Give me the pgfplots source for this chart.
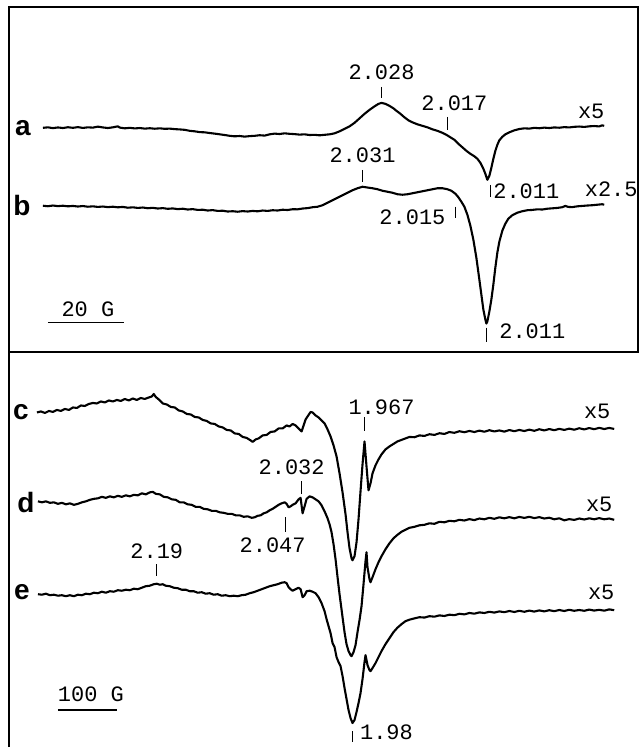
\documentclass[border=0pt]{standalone}
\usepackage{fontspec}
\usepackage{pgfplots}
\pgfplotsset{compat=1.18}
\newfontfamily\cour{Liberation Mono}
\newfontfamily\hel{Liberation Sans}
\tikzset{lbl/.style={font=\cour\fontsize{11}{11}\selectfont,inner sep=0pt},
  lettr/.style={font=\hel\bfseries\fontsize{14}{14}\selectfont,inner sep=0pt}}
\pgfplotsset{trace/.style={black,solid,mark=none,line width=1.05pt,line join=round},
  tk/.style={black,solid,mark=none,line width=0.4pt}}
\begin{document}
\begin{tikzpicture}
\begin{axis}[width=320pt,height=374pt,scale only axis,
  xmin=0,xmax=640,ymin=0,ymax=748,y dir=reverse,hide axis,clip=false]
\path (axis cs:0,0) rectangle (axis cs:640,748);
% frame
\addplot[black,mark=none,line width=1pt] coordinates {(9,748)(9,7.5)(639,7.5)(639,352)};
\addplot[black,mark=none,line width=1pt] coordinates {(9,352)(640,352)};
% trace a
\addplot[trace] coordinates {(43,128)(48,127.5)(53,128.3)(58,127.6)(63,128.2)(68,127.4)(73,128)(78,127.3)(83,128.1)(88,127.5)(93,127.8)(98,126.8)(103,127.6)(108,128.2)(113,127.5)(118,126.5)(120,127.8)(125,128.5)(130,128)(135,128.6)(140,128.2)(145,128.8)(150,128.4)(155,128.9)(160,128.5)(165,129)(170,128.8)(175,129.3)(180,129.6)(185,130)(190,131)(195,131.5)(200,132.3)(205,132.5)(210,133.2)(215,133.8)(220,134.5)(225,135.2)(230,136)(235,136.5)(240,136.2)(245,136.8)(250,136.3)(255,136)(260,135.4)(265,135.8)(270,134.5)(275,133.8)(280,134.2)(285,133.5)(290,134)(295,134.3)(300,134.8)(305,134.5)(310,135.2)(315,135)(320,135.5)(325,135)(330,134.5)(335,133.5)(340,131.5)(345,129)(350,126.5)(355,123)(360,118.5)(365,114)(370,110)(375,106.5)(379,104)(382,103)(386,104)(390,106)(394,108.5)(397,111)(401,114)(405,117.5)(409,120.5)(413,122.5)(418,124.5)(423,126)(428,127.5)(433,129.5)(438,131)(443,133)(447,135)(451,137.5)(455,140)(459,144)(463,147.5)(467,151)(471,154)(475,156.5)(478,159)(481,163)(484,169)(486,174)(488,180)(490,176)(492,168)(494,159)(496,151)(498,145)(500,140.5)(503,137)(506,134.5)(510,132.5)(515,130.5)(520,129.2)(525,128.5)(530,128.8)(535,128)(540,128.4)(545,127.8)(550,128.2)(555,127.6)(560,127.9)(565,127.3)(570,127.6)(575,127)(580,126.7)(585,127.1)(590,126.5)(595,126.2)(600,126.6)(603,125.5)(605,126)};
% trace b
\addplot[trace] coordinates {(43,206)(48,206.5)(53,205.8)(58,206.4)(63,206)(68,206.6)(73,206.2)(78,206.8)(83,206.3)(88,207)(93,206.6)(98,207.2)(103,206.8)(108,207.4)(113,207)(118,207.6)(123,207.2)(128,208)(133,207.6)(138,208.2)(143,207.8)(148,208.5)(153,208.1)(158,208.8)(163,208.4)(168,209.1)(173,208.7)(178,209.4)(183,209)(188,209.8)(193,209.4)(198,210.2)(203,210)(208,210.8)(213,210.4)(218,211.2)(223,211)(228,211.8)(233,211.5)(238,212)(243,211.4)(248,211.8)(253,211.2)(258,211.6)(263,210.8)(268,211.2)(273,210.5)(278,210.8)(283,210)(288,210.3)(293,209.5)(298,209.6)(303,208.8)(308,208.4)(313,207.5)(318,207)(323,205.5)(328,203)(333,200.5)(338,198)(343,195.5)(348,193)(353,190.5)(358,188.5)(363,187)(368,187.8)(373,188.5)(378,189.5)(383,191)(388,192)(393,193)(398,194.5)(403,195)(408,194.5)(413,193.5)(418,192.5)(423,191.5)(428,190.5)(433,189.5)(438,188.5)(443,188.5)(448,189.5)(452,191)(456,194)(459,197.5)(462,202)(465,207)(468,215)(471,226)(474,240)(477,258)(480,280)(482,295)(484,310)(486,320)(487,324)(488,322)(490,312)(492,300)(494,285)(496,268)(498,253)(500,242)(503,231)(506,224)(509,219)(513,215.5)(518,213)(523,211.5)(528,210.5)(533,210.2)(538,209.6)(543,209.8)(548,209)(553,208.6)(558,208.2)(563,207.5)(566,206.2)(569,207.2)(573,207.4)(578,206.6)(583,206.2)(588,205.8)(593,205.5)(598,205)(603,204.5)(605,205)};
% trace c
\addplot[trace] coordinates {(37,413)(41,412)(45,413.5)(49,411.5)(53,412.5)(57,410.5)(61,411.5)(65,409.5)(69,410.5)(73,408)(77,408.5)(81,406)(85,406.5)(89,404.5)(93,403.5)(97,404)(101,402)(105,403)(109,401)(113,402)(117,400.5)(121,401.5)(125,399.5)(129,401)(133,399)(137,400.5)(141,398.5)(145,399.5)(149,398)(152,397)(154,394.5)(156,397.5)(159,400)(163,404)(167,405)(171,407.5)(175,408)(179,411)(183,412)(187,414.5)(191,415)(195,417.5)(199,418)(203,420.5)(207,421.5)(211,424)(215,424.5)(219,427)(223,428)(227,430.5)(231,431)(235,434)(239,434.5)(243,437.5)(247,438.5)(251,441)(253,442.5)(256,440)(259,439)(263,436)(267,435.5)(271,432.5)(275,432)(279,429)(283,429)(287,426)(290,427)(293,424.5)(296,426)(299,429)(302,432)(304,426)(306,420)(309,415.5)(311,412.5)(313,413)(316,416)(319,418)(322,421)(325,424)(328,430)(331,437)(334,446)(337,457)(340,474)(343,493)(346,515)(348,533)(350,549)(352,559)(353,561)(355,557)(357,543)(359,520)(361,492)(363,465)(365,442)(367,467)(369,491)(371,484)(373,474)(376,466)(379,460)(382,455)(386,450)(390,447)(394,444.5)(398,442)(402,440.5)(406,439)(410,437.5)(415,437.8)(420,436)(425,436.5)(430,434.8)(435,435.5)(440,433.8)(445,434.5)(450,432.6)(455,433.4)(460,431.8)(465,432.8)(470,431.5)(475,432.6)(480,431.2)(485,432.3)(490,430.8)(495,432)(500,431)(505,432.2)(510,430.6)(515,431.8)(520,430.5)(525,431.6)(530,430.2)(535,431.4)(540,429.8)(545,431)(550,429.6)(555,430.8)(560,429.4)(565,430.5)(570,429.2)(575,430.3)(580,428.8)(585,430)(590,428.6)(595,429.8)(600,428.4)(605,429.6)(610,428.5)(615,429.5)};
% trace d
\addplot[trace] coordinates {(38,502)(42,503)(46,502)(50,503.5)(54,503)(58,504.5)(62,503.5)(66,505)(70,504)(74,505.5)(78,504.5)(82,503)(86,502)(90,500.5)(94,499.5)(98,499)(102,497.5)(106,498.5)(110,497)(114,498)(118,496.5)(122,497.5)(126,496)(130,497)(134,495.5)(138,496)(142,494)(146,495)(150,493)(153,492.5)(156,494.5)(160,495)(164,497.5)(168,498)(172,500)(176,500.5)(180,503)(184,503)(188,505)(192,505.5)(196,507.5)(200,507.5)(204,509.5)(208,510)(212,511.5)(216,511.5)(220,513)(224,513.5)(228,514.5)(232,514.5)(236,516)(240,516)(244,517.5)(248,517)(252,518.5)(255,518)(258,516.5)(261,516)(264,514)(267,513)(270,511)(273,509.5)(276,507.5)(279,505.5)(282,504)(285,503)(287,504.5)(289,508)(291,507)(293,505.5)(296,504)(299,500)(301,498.5)(303,514)(305,507)(307,499.5)(310,497)(313,498)(316,500)(319,502)(322,506)(325,512)(328,519)(330,525)(332,533)(334,545)(336,560)(338,578)(340,595)(343,618)(345,633)(347,645)(349,652)(351,656)(352,657)(354,653)(356,646)(358,633)(360,621)(362,607)(364,585)(366,562)(367,553)(368,568)(370,580)(371,583)(373,578)(376,570)(379,563)(382,557)(386,550)(390,544)(394,539)(398,535.5)(402,532.5)(406,530.5)(410,528.5)(415,527.5)(420,526)(425,525.5)(430,524)(435,524.5)(440,522.5)(445,523)(450,521.5)(455,522)(460,520.5)(465,521.2)(470,519.8)(475,520.8)(480,519.2)(485,520)(490,518.5)(495,519.5)(500,518)(505,519)(510,517.8)(515,519)(520,517.6)(525,518.6)(530,517.5)(535,518.8)(540,517.8)(545,519.2)(550,518.4)(555,520)(560,519)(565,521)(570,519.8)(575,520.6)(580,519.2)(585,520.2)(590,519)(595,520)(600,518.8)(605,520)(610,519.2)(615,520.5)};
% trace e
\addplot[trace] coordinates {(38,595)(42,595.5)(46,594.5)(50,596)(54,595.5)(58,596.5)(62,596)(66,597)(70,596)(74,597)(78,595.5)(82,596)(86,594.5)(90,595)(94,593.5)(98,594)(102,592.5)(106,593.5)(110,592)(114,592.5)(118,591)(122,591.5)(126,590.5)(130,591)(134,589.5)(138,590)(142,588.5)(146,587)(150,586.5)(154,585)(157,584.5)(160,585.5)(163,585)(166,586.5)(170,587)(174,588.5)(178,589)(182,590.5)(186,590.5)(190,592)(194,592)(198,593.5)(202,593)(206,594.5)(210,594)(214,595.5)(218,595)(222,596.5)(226,596)(230,597)(234,596.5)(238,597)(242,596)(246,595.5)(250,594)(254,593)(258,591.5)(262,590)(266,588.5)(270,587)(274,586)(278,585)(282,583.5)(285,583)(287,584)(289,588)(291,590)(293,591.5)(296,590)(299,588.5)(301,590)(303,598)(305,596)(307,592)(310,591.5)(313,592.5)(316,594)(319,598)(322,604)(325,612)(327,620)(329,627)(331,634)(333,644)(335,648)(337,658)(339,663)(341,667)(343,677)(345,689)(347,700)(349,711)(351,719)(353,724)(355,721)(357,713)(359,704)(361,694)(363,680)(365,663)(366,656)(368,666)(370,671)(371,672)(373,669)(376,664)(379,658)(382,652)(386,645)(390,639)(394,633)(398,628.5)(402,625)(406,622)(410,620.5)(415,619.2)(420,618)(425,618.4)(430,617)(435,617.5)(440,616.2)(445,616.8)(450,615.5)(455,616)(460,614.6)(465,615.2)(470,613.8)(475,614.5)(480,613.2)(485,613.8)(490,612.6)(495,613.4)(500,612.2)(505,613)(510,611.8)(515,612.8)(520,611.6)(525,612.6)(530,611.4)(535,612.4)(540,611.2)(545,612.2)(550,611)(555,612)(560,610.8)(565,611.8)(570,610.6)(575,611.6)(580,610.8)(585,611.6)(590,610.4)(595,611.4)(600,610.6)(605,611.5)(610,610.2)(615,611)};
% marker ticks
\addplot[tk] coordinates {(382,87)(382,98)};
\addplot[tk] coordinates {(448,117)(448,130)};
\addplot[tk] coordinates {(491,185)(491,197)};
\addplot[tk] coordinates {(363,170)(363,182)};
\addplot[tk] coordinates {(456,207)(456,218)};
\addplot[tk] coordinates {(487,328)(487,342)};
\addplot[tk] coordinates {(365,418)(365,432)};
\addplot[tk] coordinates {(302,482)(302,495)};
\addplot[tk] coordinates {(286,518)(286,533)};
\addplot[tk] coordinates {(157,565)(157,577)};
\addplot[tk] coordinates {(353,732)(353,743)};
% scale bars
\addplot[black,mark=none,line width=0.6pt] coordinates {(48,323)(124,323)};
\addplot[black,mark=none,line width=0.6pt] coordinates {(58,711)(117,711)};
% letters
\node[lettr] at (axis cs:23,128) {a};
\node[lettr] at (axis cs:22,206) {b};
\node[lettr] at (axis cs:21,413) {c};
\node[lettr] at (axis cs:26,503) {d};
\node[lettr] at (axis cs:22,593) {e};
% values
\node[lbl] at (axis cs:382,72) {2.028};
\node[lbl] at (axis cs:455,103) {2.017};
\node[lbl] at (axis cs:592,112) {x5};
\node[lbl] at (axis cs:527,192) {2.011};
\node[lbl] at (axis cs:612,190) {x2.5};
\node[lbl] at (axis cs:363,155) {2.031};
\node[lbl] at (axis cs:413,218) {2.015};
\node[lbl] at (axis cs:533,332) {2.011};
\node[lbl] at (axis cs:88,310) {20 G};
\node[lbl] at (axis cs:382,408) {1.967};
\node[lbl] at (axis cs:598,412) {x5};
\node[lbl] at (axis cs:600,505) {x5};
\node[lbl] at (axis cs:602,593) {x5};
\node[lbl] at (axis cs:292,468) {2.032};
\node[lbl] at (axis cs:273,546) {2.047};
\node[lbl] at (axis cs:157,552) {2.19};
\node[lbl] at (axis cs:387,733) {1.98};
\node[lbl] at (axis cs:91,695) {100 G};
\end{axis}
\end{tikzpicture}
\end{document}
